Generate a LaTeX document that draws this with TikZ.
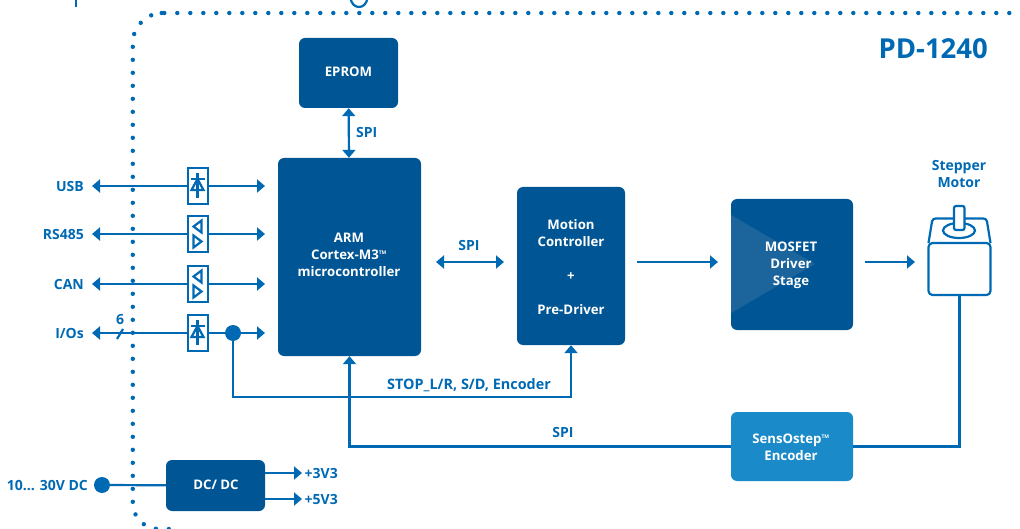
\documentclass[tikz,border=0pt]{standalone}
\usepackage{fontspec}
\setmainfont{Open Sans}
\usetikzlibrary{arrows.meta}
\definecolor{tmcdark}{HTML}{005694}
\definecolor{tmcline}{HTML}{0069B4}
\definecolor{tmclight}{HTML}{1A8AC9}
\definecolor{tmcshade}{HTML}{1B659C}
\tikzset{
    block/.style = {
      fill=tmcdark, rounded corners=6pt, inner sep=0,
    },
    blocktext/.style = {
      text=white, align=center, inner sep=0,
      font=\fontsize{13.2}{17}\selectfont\bfseries,
    },
    label/.style = {text=tmcline, align=center, inner sep=0,
      font=\fontsize{14}{17}\selectfont\bfseries},
    guard/.style = {draw=tmcline, fill=white, line width=2pt, inner sep=0,
      minimum width=20pt, minimum height=36pt},
    link/.style = {line width=2.2pt, tmcline,
      arrows={-Triangle[width=13pt, length=8pt]}},
    backlink/.style = {link, arrows={Triangle[width=13pt, length=8pt]-}},
    biglink/.style = {link, arrows={Triangle[width=13pt, length=8pt]-Triangle[width=13pt, length=8pt]}},
    wire/.style = {line width=2.2pt, tmcline},
    joint/.style = {circle, fill=tmcline, inner sep=0, minimum size=16pt},
    glyph/.style = {line width=2.2pt, tmcline},
    motorline/.style = {line width=2.2pt, tmcline},
    dotframe/.style = {tmcline, line width=4.4pt, line cap=round,
      dash pattern=on 0pt off 13pt, rounded corners=30pt},
}
\newcommand{\tm}{\textsuperscript{\tiny TM}}
\newcommand{\drawdiode}[1]{%
  %% TVS diode inside a guard box
  \draw [glyph] ([yshift=13pt] #1.center) -- ([yshift=-12pt] #1.center);
  \draw [glyph] ([shift={(-6pt,-4pt)}] #1.center) -- ([shift={(6pt,-4pt)}] #1.center)
    -- ([shift={(0pt,7pt)}] #1.center) -- cycle;
  \draw [glyph] ([shift={(-7pt,7pt)}] #1.center) -- ([shift={(7pt,7pt)}] #1.center);
}
\newcommand{\drawdriver}[1]{%
  %% Two opposite drivers inside a guard box
  \draw [glyph] ([shift={(4pt,13.5pt)}] #1.center) -- ([shift={(-4pt,7.5pt)}] #1.center)
    -- ([shift={(4pt,1.5pt)}] #1.center) -- cycle;
  \draw [glyph] ([shift={(-4pt,-1.5pt)}] #1.center) -- ([shift={(4pt,-7.5pt)}] #1.center)
    -- ([shift={(-4pt,-13.5pt)}] #1.center) -- cycle;
}
\begin{document}
\begin{tikzpicture}[x=1pt, y=-1pt]
    \useasboundingbox (0,0) rectangle (1020,529);

    %% Dotted board outline and the cut off heading, all running off the page
    \begin{scope}
      \clip (0,0) rectangle (1020,529);
      \draw [dotframe] (164.3,13) -- (1045,13) -- (1045,80);
      \draw [dotframe] (161.7,13) -- (132.8,13) [rounded corners=26pt] -- (132.8,529) -- (175,529);
      \draw [wire] (76,-2) -- (76,7);
      \draw [wire] (350.5,-2) .. controls (352,10) and (366,10) .. (367.5,-2);
    \end{scope}

    %% Blocks
    \node [block, minimum width=99pt, minimum height=70pt] (eprom) at (348.5,73) {};
    \node [blocktext] (eprom_text) at (348.5,71.5) {EPROM};
    \node [block, minimum width=143pt, minimum height=198pt] (arm) at (349.5,257) {};
    \node [blocktext] (arm_text) at (349,254.5) {ARM\\Cortex-M3\tm\\microcontroller};
    \node [block, minimum width=108pt, minimum height=158pt] (motion) at (571,266) {};
    \node [blocktext] (motion_text) at (571,267) {Motion\\Controller\\[17pt]+\\[17pt]Pre-Driver};
    \node [block, minimum width=122pt, minimum height=131pt] (mosfet) at (792,264.5) {};
    \fill [tmcshade] (731,215) -- (815,264) -- (731,313) -- cycle;
    \node [blocktext] (mosfet_text) at (791,265.5) {MOSFET\\Driver\\Stage};
    \node [block, fill=tmclight, minimum width=122pt, minimum height=69pt] (encoder) at (792,446.5) {};
    \node [blocktext] (encoder_text) at (791,447) {SensOstep\tm\\Encoder};
    \node [block, minimum width=99pt, minimum height=51pt] (dcdc) at (215.5,485.5) {};
    \node [blocktext] (dcdc_text) at (216,485) {DC/ DC};

    %% Board name and motor
    \node [label, anchor=east, font=\fontsize{27.5}{30}\selectfont\bfseries] (board) at (988,49) {PD-1240};
    \node [label] (motor_label) at (959,174) {Stepper\\Motor};
    \node [draw=tmcline, line width=2.2pt, rounded corners=4pt, minimum width=62pt,
           minimum height=52pt, inner sep=0] (motor) at (959.5,269) {};
    \draw [motorline, rounded corners=3pt] (928.5,243) -- (932.5,218.5) -- (986.5,218.5) -- (990.5,243);
    \draw [motorline] (959,230.5) ellipse [x radius=16, y radius=7.5];
    \draw [motorline, fill=white, rounded corners=2pt] (954,230) -- (954,206) -- (964.5,206) -- (964.5,230) -- cycle;

    %% Interface lines and their guards
    \foreach \name/\txt/\ypos in {usb/USB/186, rsfour/RS485/234, can/CAN/284, ios/I\slash Os/333}{%
      \node [guard] (guard_\name) at (197.5,\ypos) {};
      \node [label, anchor=east] (label_\name) at (84,\ypos+0.8) {\txt};
      \coordinate (west_\name) at (92,\ypos);
      \coordinate (east_\name) at (265,\ypos);
      \draw [backlink] (west_\name) -- (guard_\name.west);
      \draw [link] (guard_\name.east) -- (east_\name);
    }
    \drawdiode{guard_usb}
    \drawdriver{guard_rsfour}
    \drawdriver{guard_can}
    \drawdiode{guard_ios}

    %% Six wire mark on the I/O line
    \coordinate (slash_a) at (117,339);
    \coordinate (slash_b) at (123,329);
    \draw [wire] (slash_a) -- (slash_b);
    \node [label] (six) at (120,319.5) {6};

    %% Links between the blocks
    \draw [biglink] (eprom) -- (arm);
    \node [label, anchor=west] (spi_eprom) at (356,133) {SPI};
    \coordinate (arm_right) at (436,262);
    \coordinate (motion_left) at (504,262);
    \draw [biglink] (arm_right) -- (motion_left);
    \node [label] (spi_motion) at (469,245.5) {SPI};
    \coordinate (motion_right) at (637,262);
    \coordinate (mosfet_left) at (718,262);
    \draw [link] (motion_right) -- (mosfet_left);
    \coordinate (mosfet_right) at (865,262);
    \coordinate (motor_left) at (915,262);
    \draw [link] (mosfet_right) -- (motor_left);

    %% Stop switches and encoder feedback
    \node [joint] (io_joint) at (233,333) {};
    \coordinate (stop_corner) at (233,397);
    \draw [link] (io_joint) -- (stop_corner) -| (motion.south);
    \node [label, font=\fontsize{14.4}{17}\selectfont\bfseries] (stop) at (469,385.5) {STOP\_L/R, S/D, Encoder};
    \draw [link] (encoder.west) -| (arm.south);
    \node [label] (spi_encoder) at (563,432.5) {SPI};
    \draw [wire] (motor.south) |- (encoder.east);

    %% Supply
    \node [label, anchor=east] (supply) at (88,485.5) {10... 30V DC};
    \node [joint] (supply_joint) at (102,485) {};
    \draw [wire] (supply_joint) -- (dcdc);
    \coordinate (out_three) at (302,473);
    \coordinate (out_five) at (302,499);
    \draw [link] (dcdc.east |- out_three) -- (out_three);
    \draw [link] (dcdc.east |- out_five) -- (out_five);
    \node [label, anchor=west] (three) at (304.5,473.5) {+3V3};
    \node [label, anchor=west] (five) at (304.5,499.5) {+5V3};
\end{tikzpicture}
\end{document}
